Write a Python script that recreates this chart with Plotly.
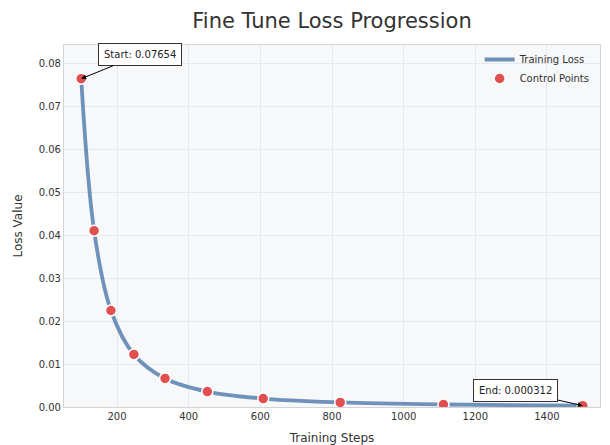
import plotly.graph_objects as go

steps = [100, 136, 183, 247, 334, 452, 608, 823, 1111, 1500]
loss = [0.07654, 0.0411, 0.0225, 0.01225, 0.00665, 0.0036, 0.00196, 0.00107, 0.00058, 0.000312]
x_ticks = [200, 400, 600, 800, 1000, 1200, 1400]
y_ticks = [0.0, 0.01, 0.02, 0.03, 0.04, 0.05, 0.06, 0.07, 0.08]

font = "DejaVu Sans, Verdana, sans-serif"

# page body has an 8px default margin, so the figure is sized to fill the rest
W, H = 602, 437

fig = go.Figure()
fig.add_trace(go.Scatter(
    x=steps, y=loss, mode="lines", name="Training Loss",
    line=dict(color="rgba(92,131,178,0.88)", width=3.8, shape="spline", smoothing=1.0),
))
fig.add_trace(go.Scatter(
    x=steps, y=loss, mode="markers", name="Control Points",
    marker=dict(color="#e05050", size=11, line=dict(color="white", width=1.5)),
))

fig.add_annotation(
    x=steps[0], y=loss[0], xref="x", yref="y",
    text=f"Start: {loss[0]}", showarrow=True, arrowhead=2, arrowsize=1, arrowwidth=1,
    arrowcolor="black", ax=59, ay=-24, axref="pixel", ayref="pixel",
    font=dict(family=font, size=10, color="#222"),
    bgcolor="white", bordercolor="#333", borderwidth=1, borderpad=5,
)
fig.add_annotation(
    x=steps[-1], y=loss[-1], xref="x", yref="y",
    text=f"End: {loss[-1]:.6f}", showarrow=True, arrowhead=2, arrowsize=1, arrowwidth=1,
    arrowcolor="black", ax=-67, ay=-15, axref="pixel", ayref="pixel",
    font=dict(family=font, size=10, color="#222"),
    bgcolor="white", bordercolor="#333", borderwidth=1, borderpad=5,
)

fig.update_layout(
    width=W, height=H,
    margin=dict(l=56, r=10, t=37, b=38, autoexpand=False),
    paper_bgcolor="white", plot_bgcolor="#f7f8fa",
    font=dict(family=font, size=10, color="#333"),
    title=dict(text="Fine Tune Loss Progression", x=324 / W, xanchor="center",
               y=1 - 12.5 / H, yanchor="middle", yref="container",
               font=dict(family=font, size=21, color="#333")),
    showlegend=True,
    legend=dict(x=0.99, y=1.0, xanchor="right", yanchor="top", bgcolor="rgba(0,0,0,0)",
                font=dict(family=font, size=10, color="#333")),
)
fig.update_xaxes(
    range=[52, 1548], tickvals=x_ticks, showgrid=True, gridcolor="#e6e8eb", gridwidth=1,
    zeroline=False, showline=True, linecolor="#d4d4d4", linewidth=1.2, mirror=True, ticks="",
    automargin=False,
    title=dict(text="Training Steps", font=dict(family=font, size=12, color="#333"), standoff=12),
)
fig.update_yaxes(
    range=[0, 0.0844], tickvals=y_ticks, tickformat=".2f", showgrid=True, gridcolor="#e6e8eb",
    gridwidth=1, zeroline=False, showline=True, linecolor="#d4d4d4", linewidth=1.2, mirror=True, ticks="",
    automargin=False,
    title=dict(text="Loss Value", font=dict(family=font, size=12, color="#333"), standoff=13),
)

fig.write_html("out.html")
